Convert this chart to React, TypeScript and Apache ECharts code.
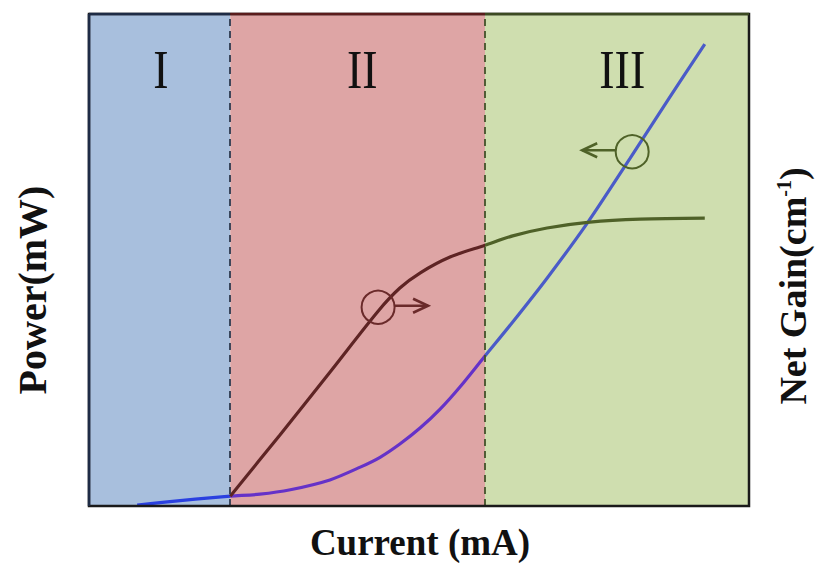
import React, { useEffect, useRef } from "react";
import * as echarts from "echarts";

// Operating regions along the current axis
const regionEdges = [0, 21.4, 60, 100];
const regionNames = ["I", "II", "III"];
const regionFills = ["#a8bfdd", "#dea5a5", "#cfdeaf"];
const regionFrameColors = ["#1e2b45", "#5a1c1c", "#3c4a22"];
const regionLabelX = [10.9, 41.4, 80.8];
const dividerColors = ["#2e3a4f", "#43522a"];

// Output power vs current (left axis)
const powerCurrent = [7.3, 11.5, 16.1, 21.4, 25.9, 30.5, 36.5, 41.1, 44.1, 47.1, 50.2, 53.2, 56.2, 60.0, 64.2, 69.4, 75.5, 82.0, 88.0, 93.3];
const powerValues = [0.2, 0.8, 1.4, 2.0, 2.4, 3.3, 5.3, 7.9, 9.9, 12.6, 15.9, 19.7, 24.2, 30.5, 37.4, 46.3, 57.5, 70.7, 83.1, 93.9];
const powerColors = ["#2a40e0", "#6532c8", "#4a5bc8"];

// Net gain vs current (right axis)
const gainCurrent = [21.4, 28.9, 36.5, 43.8, 47.1, 50.2, 54.7, 60.0, 64.2, 69.4, 75.9, 83.5, 93.3];
const gainValues = [2.0, 14.4, 27.2, 39.6, 44.3, 47.4, 50.6, 53.0, 54.9, 56.5, 57.7, 58.3, 58.5];
const gainColors = ["#5e2424", "#5e2424", "#4f6128"];

// Curve markers: [current, value, arrow direction]
const gainMarker = [43.8, 40.4, 1];
const powerMarker = [82.3, 72.0, -1];
const gainMarkerColor = "#6a2a2a";
const powerMarkerColor = "#4f6228";

const SERIF = "'Liberation Serif', 'Times New Roman', serif";

const toPairs = (xs: number[], ys: number[]) => xs.map((x, i) => [x, ys[i]]);

const regionPieces = (colors: string[]) =>
  colors.map((color, i) => ({
    gte: regionEdges[i],
    lt: i === colors.length - 1 ? 1000 : regionEdges[i + 1],
    color,
  }));

const hiddenAxis = {
  type: "value",
  min: 0,
  max: 100,
  axisLine: { show: false },
  axisTick: { show: false },
  axisLabel: { show: false },
  splitLine: { show: false },
};

export default function App() {
  const ref = useRef<HTMLDivElement>(null);

  useEffect(() => {
    if (!ref.current) return;
    const chart = echarts.init(ref.current, null, { renderer: "svg" });

    chart.setOption({
      animation: false,
      backgroundColor: "#ffffff",
      grid: {
        left: 89,
        top: 14,
        right: 66,
        bottom: 57,
        show: true,
        borderColor: "#1a1a1a",
        borderWidth: 2.5,
        backgroundColor: "transparent",
        z: 10,
      },
      xAxis: { ...hiddenAxis },
      yAxis: [{ ...hiddenAxis }, { ...hiddenAxis, position: "right" }],
      visualMap: [
        {
          type: "piecewise",
          show: false,
          dimension: 0,
          seriesIndex: 0,
          pieces: regionPieces(powerColors),
        },
        {
          type: "piecewise",
          show: false,
          dimension: 0,
          seriesIndex: 1,
          pieces: regionPieces(gainColors),
        },
      ],
      series: [
        {
          name: "Power",
          type: "line",
          yAxisIndex: 0,
          data: toPairs(powerCurrent, powerValues),
          smooth: 0.3,
          symbol: "none",
          lineStyle: { width: 3.2 },
          z: 3,
          markArea: {
            silent: true,
            label: { show: false },
            data: regionNames.map((_, i) => [
              { xAxis: regionEdges[i], itemStyle: { color: regionFills[i], opacity: 1 } },
              { xAxis: regionEdges[i + 1] },
            ]),
          },
          markLine: {
            silent: true,
            symbol: ["none", "none"],
            label: { show: false },
            data: dividerColors.map((color, i) => ({
              xAxis: regionEdges[i + 1],
              lineStyle: { color, type: [7, 5], width: 1.8 },
            })),
          },
        },
        {
          name: "Net Gain",
          type: "line",
          yAxisIndex: 1,
          data: toPairs(gainCurrent, gainValues),
          smooth: 0.3,
          symbol: "none",
          lineStyle: { width: 3.2 },
          z: 3,
        },
      ],
    });

    const px = (x: number, y: number, yIdx: number) =>
      chart.convertToPixel({ xAxisIndex: 0, yAxisIndex: yIdx }, [x, y]) as number[];

    const [plotLeft, plotTop] = px(0, 100, 0);
    const plotBottom = px(0, 0, 0)[1];

    // Frame segments tinted per region along the top, plus the left side
    const frameTints = [
      ...regionFrameColors.map((color, i) => ({
        type: "line",
        z: 21,
        shape: {
          x1: px(regionEdges[i], 0, 0)[0],
          y1: plotTop,
          x2: px(regionEdges[i + 1], 0, 0)[0],
          y2: plotTop,
        },
        style: { stroke: color, lineWidth: 2.5 },
      })),
      {
        type: "line",
        z: 21,
        shape: { x1: plotLeft, y1: plotTop, x2: plotLeft, y2: plotBottom },
        style: { stroke: regionFrameColors[0], lineWidth: 2.5 },
      },
    ];

    const regionTexts = regionNames.map((name, i) => ({
      type: "text",
      x: px(regionLabelX[i], 0, 0)[0],
      y: plotTop + 56,
      scaleY: 1.2,
      z: 20,
      style: {
        text: name,
        font: `46px ${SERIF}`,
        fill: "#111111",
        textAlign: "center",
        textVerticalAlign: "middle",
      },
    }));

    const marker = (m: number[], yIdx: number, color: string) => {
      const [cx, cy] = px(m[0], m[1], yIdx);
      const dir = m[2];
      const r = 16.5;
      const ay = cy - 1.5;
      const tip = cx + dir * 50;
      return [
        {
          type: "circle",
          z: 20,
          shape: { cx, cy, r },
          style: { fill: "none", stroke: color, lineWidth: 2 },
        },
        {
          type: "line",
          z: 20,
          shape: { x1: cx + dir * r, y1: ay, x2: tip, y2: ay },
          style: { stroke: color, lineWidth: 2.6 },
        },
        {
          type: "polyline",
          z: 20,
          shape: {
            points: [
              [tip - dir * 15, ay - 7],
              [tip, ay],
              [tip - dir * 15, ay + 7],
            ],
          },
          style: { stroke: color, lineWidth: 2.6, fill: "none" },
        },
      ];
    };

    chart.setOption({
      graphic: [
        ...frameTints,
        ...regionTexts,
        ...marker(gainMarker, 1, gainMarkerColor),
        ...marker(powerMarker, 0, powerMarkerColor),
        {
          type: "text",
          x: 420,
          y: 542,
          style: {
            text: "Current (mA)",
            font: `bold 37px ${SERIF}`,
            fill: "#111111",
            textAlign: "center",
            textVerticalAlign: "middle",
          },
        },
        {
          type: "text",
          x: 32,
          y: 290,
          rotation: Math.PI / 2,
          style: {
            text: "Power(mW)",
            font: `bold 40px ${SERIF}`,
            fill: "#111111",
            textAlign: "center",
            textVerticalAlign: "middle",
          },
        },
        {
          type: "text",
          x: 793,
          y: 286,
          rotation: Math.PI / 2,
          style: {
            text: "{a|Net Gain(cm}{s|-1}{a|)}",
            fill: "#111111",
            textAlign: "center",
            textVerticalAlign: "middle",
            rich: {
              a: { font: `bold 38px ${SERIF}`, fill: "#111111" },
              s: { font: `bold 20px ${SERIF}`, fill: "#111111", verticalAlign: "top" },
            },
          },
        },
      ],
    });

    return () => chart.dispose();
  }, []);

  return (
    <div
      ref={ref}
      style={{ position: "fixed", left: 0, top: 0, width: 815, height: 563 }}
    />
  );
}
